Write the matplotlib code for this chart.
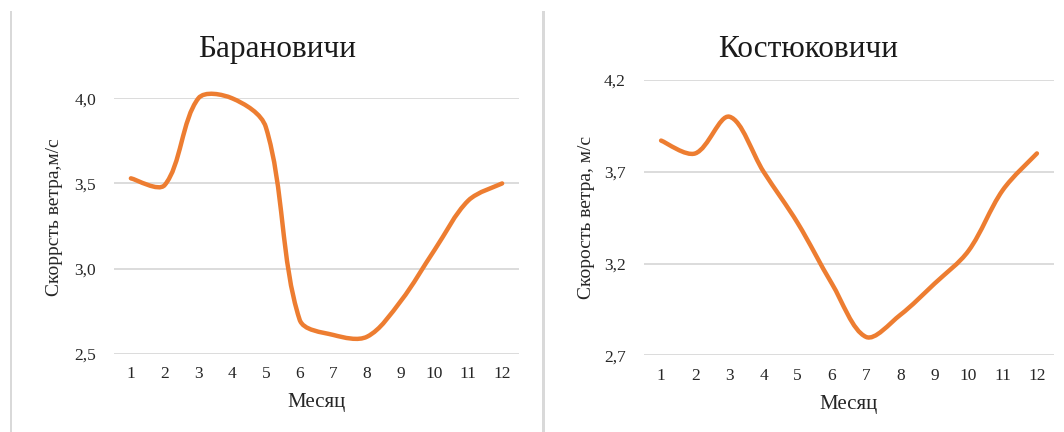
import matplotlib
matplotlib.use("Agg")
from matplotlib import pyplot as plt
from matplotlib.path import Path
from matplotlib.patches import PathPatch
from matplotlib.lines import Line2D
from matplotlib.ticker import FuncFormatter
import numpy as np

plt.rcParams['font.family'] = ['Liberation Serif', 'DejaVu Serif']

# ---- данные ----
months = [1, 2, 3, 4, 5, 6, 7, 8, 9, 10, 11, 12]
baran = [3.53, 3.49, 4.00, 4.00, 3.83, 2.70, 2.61, 2.60, 2.81, 3.11, 3.40, 3.50]
kost = [3.87, 3.80, 4.00, 3.70, 3.42, 3.09, 2.80, 2.92, 3.09, 3.27, 3.60, 3.80]
baran_ticks = [2.5, 3.0, 3.5, 4.0]
kost_ticks = [2.7, 3.2, 3.7, 4.2]

orange = '#ED7D31'
grid_c = '#d9d9d9'
txt_c = '#262626'


def smooth_path(ax, x, y):
    # сглаженная линия (Безье), плечи пропорциональны длинам отрезков в пикселях
    p = ax.transData.transform(np.column_stack([x, y]).astype(float))
    n = len(p)
    c_in = [None] * n
    c_out = [None] * n
    for i in range(n):
        a = p[i - 1] if i > 0 else p[i]
        b = p[i + 1] if i < n - 1 else p[i]
        t = b - a
        dp = np.hypot(*(p[i] - a))
        dn = np.hypot(*(b - p[i]))
        s = dp + dn
        if s == 0:
            c_in[i] = c_out[i] = p[i]
            continue
        if i == 0 or i == n - 1:
            c_in[i] = p[i] - t / 6.0
            c_out[i] = p[i] + t / 6.0
        else:
            c_in[i] = p[i] - t * dp / s / 3.0
            c_out[i] = p[i] + t * dn / s / 3.0
    verts = [p[0]]
    codes = [Path.MOVETO]
    for i in range(n - 1):
        verts += [c_out[i], c_in[i + 1], p[i + 1]]
        codes += [Path.CURVE4] * 3
    verts = ax.transData.inverted().transform(np.array(verts))
    return Path(verts, codes)


def panel(ax, vals, ticks, title, ylabel, title_x, ylab_x, ylab_y):
    ax.set_xlim(0.5, 12.5)
    ax.set_ylim(ticks[0], ticks[-1])
    ax.set_xticks(months)
    ax.set_yticks(ticks)
    ax.yaxis.set_major_formatter(FuncFormatter(lambda v, pos: f"{v:.1f}".replace('.', ',')))
    for s in ax.spines.values():
        s.set_visible(False)
    ax.grid(axis='y', color=grid_c, lw=1.3)
    ax.set_axisbelow(True)
    ax.tick_params(length=0, labelsize=12.5, colors=txt_c)
    ax.tick_params(axis='y', pad=13)
    ax.tick_params(axis='x', pad=9)
    ax.set_xlabel('Месяц', fontsize=15, color=txt_c, labelpad=8)
    ax.set_ylabel(ylabel, fontsize=14, color=txt_c)
    ax.yaxis.set_label_coords(ylab_x, ylab_y)
    patch = PathPatch(smooth_path(ax, months, vals), facecolor='none', edgecolor=orange,
                      lw=3.2, capstyle='round', joinstyle='round', clip_on=False)
    ax.add_patch(patch)
    fig.text(title_x, 0.885, title, fontsize=22.5, ha='center', va='center', color='#1a1a1a')


fig = plt.figure(figsize=(10.64, 4.32), dpi=100)
ax1 = fig.add_axes([114 / 1064, 1 - 353.7 / 432, 405 / 1064, 255.4 / 432])
ax2 = fig.add_axes([644 / 1064, 1 - 355.3 / 432, 410 / 1064, 275.3 / 432])

panel(ax1, baran, baran_ticks, 'Барановичи', 'Скоррсть ветра,м/с', 277 / 1064, -0.125, 0.536)
panel(ax2, kost, kost_ticks, 'Костюковичи', 'Скорость ветра, м/с', 808 / 1064, -0.12, 0.5)

# рамки областей диаграмм
for xb, w in [(10.5, 2), (542.5, 3)]:
    fig.add_artist(Line2D([xb / 1064, xb / 1064], [0, 1 - 12 / 432], color='#d9d9d9', lw=w * 0.72))

fig.savefig('out.png', dpi=100)
